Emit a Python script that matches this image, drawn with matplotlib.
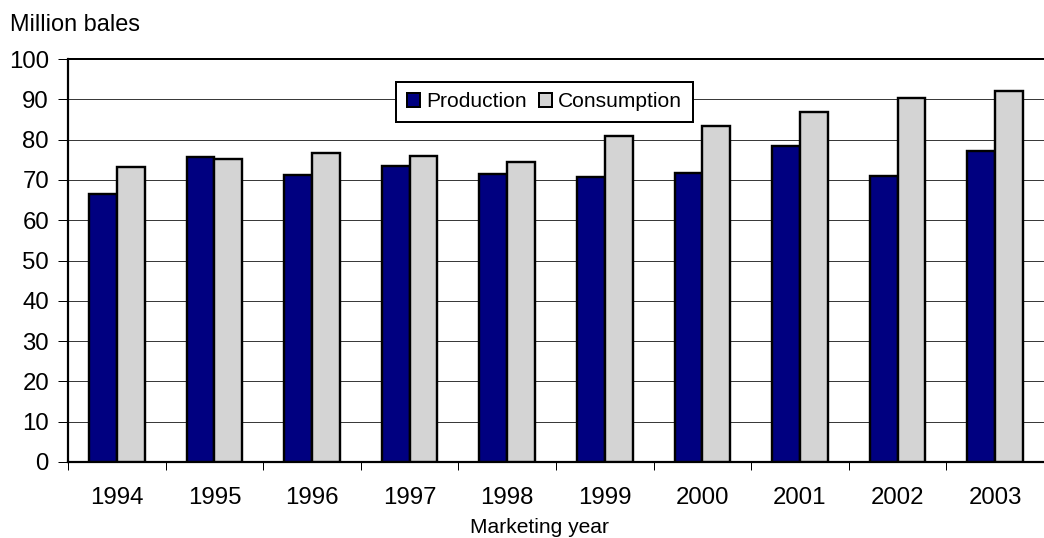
import numpy as np
import matplotlib
matplotlib.use("Agg")
import matplotlib.pyplot as plt
from matplotlib.patches import Patch

# cotton supply/demand, million bales
years = ["1994", "1995", "1996", "1997", "1998", "1999", "2000", "2001", "2002", "2003"]
production = [66.4, 75.6, 71.1, 73.4, 71.5, 70.6, 71.6, 78.3, 71.0, 77.1]
consumption = [73.3, 75.2, 76.6, 75.9, 74.4, 80.9, 83.4, 86.8, 90.2, 92.1]

plt.rcParams['font.family'] = ['Liberation Sans', 'DejaVu Sans']

# dpi 72 so that points == pixels
fig = plt.figure(figsize=(1044 / 72, 538 / 72), dpi=72)
ax = fig.add_axes([68 / 1044, 76 / 538, 1 - 68 / 1044, (462 - 59) / 538])

x = np.arange(len(years))
w = 0.285
prod_color = "#000080"
cons_color = "#d4d4d4"

ax.bar(x - w / 2, production, w, color=prod_color, edgecolor="black", linewidth=2.4, zorder=3)
ax.bar(x + w / 2, consumption, w, color=cons_color, edgecolor="black", linewidth=2.4, zorder=3)

ax.set_ylim(0, 100)
ax.set_xlim(-0.5, 9.42)
ax.set_yticks(range(0, 101, 10))
ax.yaxis.grid(True, color="#3a3a3a", linewidth=1, zorder=0)
ax.set_axisbelow(True)

ax.set_xticks(x)
ax.set_xticklabels(years)
ax.set_xticks(np.arange(-0.5, 10, 1), minor=True)
ax.tick_params(axis="x", which="major", length=0, pad=25, labelsize=24)
ax.tick_params(axis="x", which="minor", length=8, width=1, direction="out")
ax.tick_params(axis="y", length=10, width=1, pad=9, labelsize=24)

for side in ["left", "bottom"]:
    ax.spines[side].set_linewidth(2.2)
ax.spines["top"].set_linewidth(2)
ax.spines["right"].set_visible(False)

fig.text(10 / 1044, 1 - 31 / 538, "Million bales", fontsize=23.5, va="baseline", ha="left")
fig.text(539 / 1044, 1 - 533 / 538, "Marketing year", fontsize=21, va="baseline", ha="center")

handles = [Patch(facecolor=prod_color, edgecolor="black", linewidth=2),
           Patch(facecolor=cons_color, edgecolor="black", linewidth=2)]
leg = fig.legend(handles, ["Production", "Consumption"], loc="upper left",
                 bbox_to_anchor=(396 / 1044, 1 - 82 / 538), ncol=2, fontsize=21,
                 frameon=True, fancybox=False, shadow=False, borderaxespad=0,
                 handlelength=0.62, handleheight=0.62, handletextpad=0.3,
                 columnspacing=0.6, borderpad=0.5)
leg.get_frame().set_edgecolor("black")
leg.get_frame().set_linewidth(2)
leg.get_frame().set_alpha(1)

fig.savefig("out.png", dpi=72)
